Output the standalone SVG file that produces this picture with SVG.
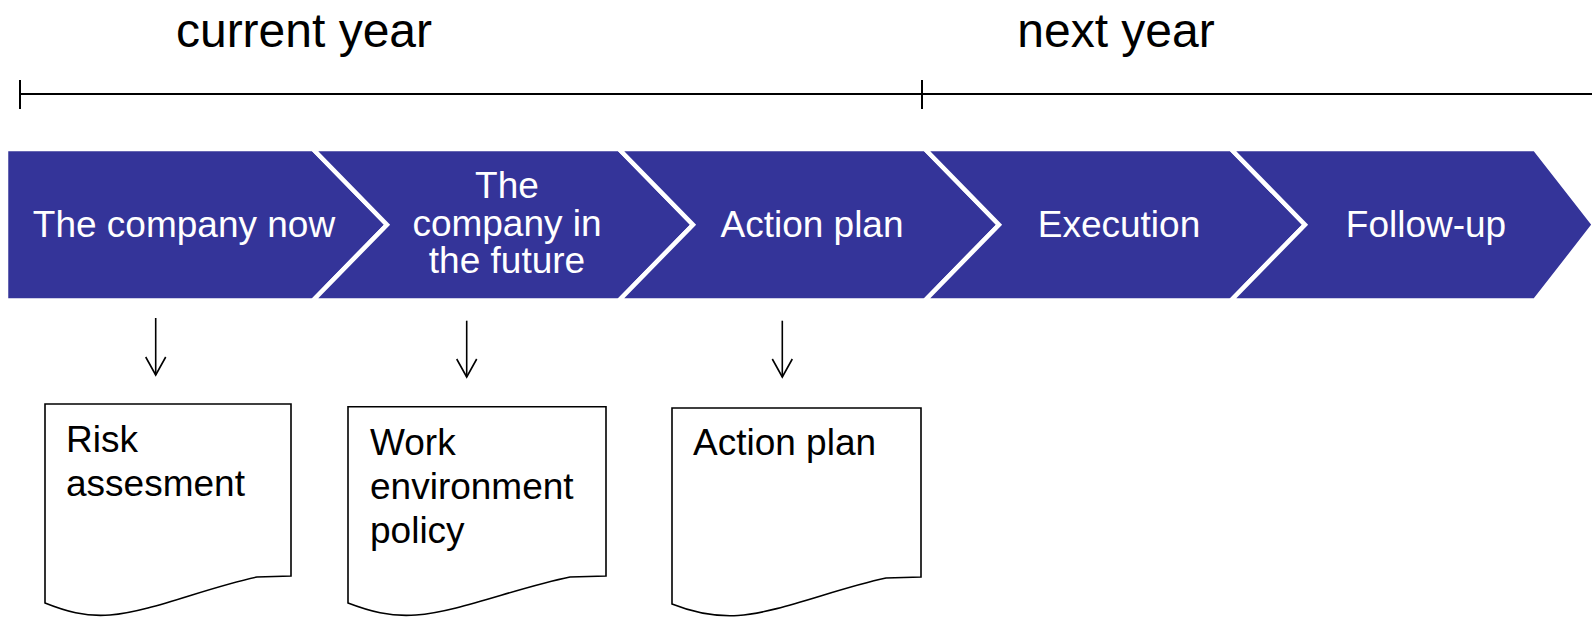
<svg xmlns="http://www.w3.org/2000/svg" width="1592" height="617" viewBox="0 0 1592 617">
<style>
.title{font-family:"Liberation Sans",Arial,sans-serif;font-size:48px;fill:#000;text-anchor:middle}
.chev{fill:#343499;stroke:#fff;stroke-width:4.5;stroke-linejoin:miter}
.ct{font-family:"Liberation Sans",Arial,sans-serif;font-size:37px;fill:#fff;text-anchor:middle}
.doc{fill:#fff;stroke:#000;stroke-width:1.6}
.dt{font-family:"Liberation Sans",Arial,sans-serif;font-size:37px;fill:#000}
.tl{stroke:#000;stroke-width:2;fill:none}
.arr{stroke:#000;stroke-width:1.6;fill:none;marker-end:url(#open)}
</style>
<defs>
<marker id="open" viewBox="-20 -12 22 24" refX="0" refY="0" markerWidth="22" markerHeight="24" markerUnits="userSpaceOnUse" orient="auto">
<path d="M-18,-10 L0,0 L-18,10" fill="none" stroke="#000" stroke-width="1.6"/>
</marker>
</defs>
<g id="timeline">
<text class="title" x="304" y="47">current year</text>
<text class="title" x="1116" y="47">next year</text>
<line class="tl" x1="20" y1="94" x2="1592" y2="94"/>
<line class="tl" x1="20" y1="80" x2="20" y2="109"/>
<line class="tl" x1="922" y1="80" x2="922" y2="109"/>
</g>
<g id="step1">
<polygon class="chev" points="6,149 313,149 387,224.7 313,300.5 6,300.5"/>
<text class="ct" x="184" y="236.5">The company now</text>
</g>
<g id="step2">
<polygon class="chev" points="313,149 619,149 693,224.7 619,300.5 313,300.5 387,224.7"/>
<text class="ct" x="507" y="198">The</text>
<text class="ct" x="507" y="236">company in</text>
<text class="ct" x="507" y="273">the future</text>
</g>
<g id="step3">
<polygon class="chev" points="619,149 925,149 999,224.7 925,300.5 619,300.5 693,224.7"/>
<text class="ct" x="812" y="236.5">Action plan</text>
</g>
<g id="step4">
<polygon class="chev" points="925,149 1231,149 1305,224.7 1231,300.5 925,300.5 999,224.7"/>
<text class="ct" x="1119" y="236.5">Execution</text>
</g>
<g id="step5">
<polygon class="chev" points="1231,149 1535,149 1594,224.7 1535,300.5 1231,300.5 1305,224.7"/>
<text class="ct" x="1426" y="236.5">Follow-up</text>
</g>
<g id="doc1">
<path class="doc" d="M45,404 H291 V576 L257,577 C205,588 150,612 110,615 C85,617 65,611 45,603 Z"/>
<text class="dt" x="66" y="452">Risk</text>
<text class="dt" x="66" y="496">assesment</text>
</g>
<g id="doc2">
<path class="doc" d="M348,406.7 H606 V576 L570,577 C516,588 458,612 416,615 C390,617 369,611 348,603 Z"/>
<text class="dt" x="370" y="455">Work</text>
<text class="dt" x="370" y="499">environment</text>
<text class="dt" x="370" y="543">policy</text>
</g>
<g id="doc3">
<path class="doc" d="M672,408 H921 V577 L886,578 C834,589 778,613 738,615.5 C712,617 692,612 672,604 Z"/>
<text class="dt" x="693" y="455">Action plan</text>
</g>
<g id="connectors">
<line class="arr" x1="155.7" y1="318" x2="155.7" y2="375"/>
<line class="arr" x1="466.7" y1="320.7" x2="466.7" y2="377"/>
<line class="arr" x1="782.3" y1="320.7" x2="782.3" y2="377"/>
</g>
</svg>
